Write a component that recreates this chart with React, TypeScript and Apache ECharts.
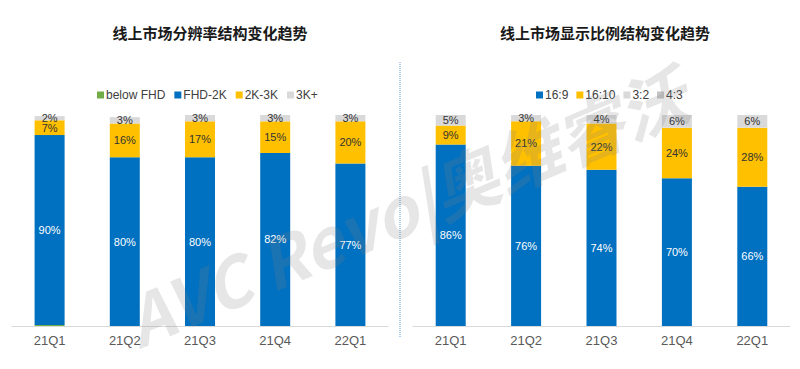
import React, { useEffect, useRef } from "react";
import * as echarts from "echarts";

const quarters = ["21Q1", "21Q2", "21Q3", "21Q4", "22Q1"];

const resNames = ["below FHD", "FHD-2K", "2K-3K", "3K+"];
const belowFHD = [0.5, 0, 0, 0, 0];
const fhd2k = [90, 80, 80, 82, 77];
const k2k3 = [7, 16, 17, 15, 20];
const k3plus = [2, 3, 3, 3, 3];

const ratioNames = ["16:9", "16:10", "3:2", "4:3"];
const r169 = [86, 76, 74, 70, 66];
const r1610 = [9, 21, 22, 24, 28];
const r32 = [5, 3, 4, 6, 6];
const r43 = [0, 0, 0, 0, 0];

const titleLeft = "线上市场分辨率结构变化趋势";
const titleRight = "线上市场显示比例结构变化趋势";

const BLUE = "#0070C0";
const YELLOW = "#FFC000";
const GREY = "#D9D9D9";
const GREEN = "#70AD47";
const GREY2 = "#C4C4C4";

const FONT = "'Liberation Sans', Arial, sans-serif";

function mkSeries(name: string, data: number[], color: string, idx: number, stack: string, labelColor: string) {
  return {
    type: "bar",
    name,
    data,
    stack,
    xAxisIndex: idx,
    yAxisIndex: idx,
    barWidth: 30,
    itemStyle: { color },
    label: {
      show: true,
      position: "inside",
      color: labelColor,
      fontSize: 11,
      fontFamily: FONT,
      formatter: (p: any) => (p.value >= 1 ? p.value + "%" : ""),
    },
  };
}

export default function App() {
  const ref = useRef<HTMLDivElement>(null);
  useEffect(() => {
    if (!ref.current) return;
    const chart = echarts.init(ref.current, null, { renderer: "svg" });
    const xAxisCommon = {
      type: "category",
      data: quarters,
      axisTick: { show: false },
      axisLine: { lineStyle: { color: "#D9D9D9", width: 1 } },
      axisLabel: { color: "#595959", fontSize: 13, fontFamily: FONT, margin: 8 },
    };
    const yAxisCommon = { type: "value", min: 0, max: 100, show: false, splitLine: { show: false } };
    const legendText = { fontSize: 12, color: "#404040", fontFamily: FONT, padding: [0, 0, 0, -3] };
    chart.setOption({
      animation: false,
      backgroundColor: "#ffffff",
      title: [
        {
          text: titleLeft,
          left: 205,
          top: 20,
          textAlign: "center",
          textStyle: { fontSize: 15, fontWeight: "bold", color: "#1a1a1a", fontFamily: "'Noto Sans CJK SC', sans-serif" },
        },
        {
          text: titleRight,
          left: 600,
          top: 20,
          textAlign: "center",
          textStyle: { fontSize: 15, fontWeight: "bold", color: "#1a1a1a", fontFamily: "'Noto Sans CJK SC', sans-serif" },
        },
      ],
      legend: [
        {
          data: resNames,
          left: 92,
          top: 84,
          itemWidth: 7,
          itemHeight: 7,
          itemGap: 9,
          icon: "rect",
          textStyle: legendText,
        },
        {
          data: ratioNames,
          left: 531,
          top: 84,
          itemWidth: 7,
          itemHeight: 7,
          itemGap: 8,
          icon: "rect",
          textStyle: legendText,
        },
      ],
      grid: [
        { left: 12, right: 412, top: 115, bottom: 43 },
        { left: 413, right: 10, top: 115, bottom: 43 },
      ],
      xAxis: [
        { ...xAxisCommon, gridIndex: 0 },
        { ...xAxisCommon, gridIndex: 1 },
      ],
      yAxis: [
        { ...yAxisCommon, gridIndex: 0 },
        { ...yAxisCommon, gridIndex: 1 },
      ],
      series: [
        mkSeries(resNames[0], belowFHD, GREEN, 0, "a", "#333"),
        mkSeries(resNames[1], fhd2k, BLUE, 0, "a", "#ffffff"),
        mkSeries(resNames[2], k2k3, YELLOW, 0, "a", "#333"),
        mkSeries(resNames[3], k3plus, GREY, 0, "a", "#333"),
        mkSeries(ratioNames[0], r169, BLUE, 1, "b", "#ffffff"),
        mkSeries(ratioNames[1], r1610, YELLOW, 1, "b", "#333"),
        mkSeries(ratioNames[2], r32, GREY, 1, "b", "#333"),
        mkSeries(ratioNames[3], r43, GREY2, 1, "b", "#333"),
      ],
      graphic: [
        {
          type: "line",
          shape: { x1: 400, y1: 62, x2: 400, y2: 338 },
          style: { stroke: "#5B9BD5", lineWidth: 1, lineDash: [1, 1] },
        },
        {
          type: "text",
          x: 405,
          y: 205,
          rotation: 0.4,
          z: 100,
          silent: true,
          style: {
            text: "AVC Revo|奥维睿沃",
            fill: "rgba(128,128,128,0.2)",
            font: "bold italic 68px 'Noto Sans CJK SC', sans-serif",
            align: "center",
            verticalAlign: "middle",
          },
        },
      ],
    });
    return () => chart.dispose();
  }, []);
  return <div ref={ref} style={{ position: "fixed", left: 0, top: 0, width: 800, height: 369 }} />;
}
